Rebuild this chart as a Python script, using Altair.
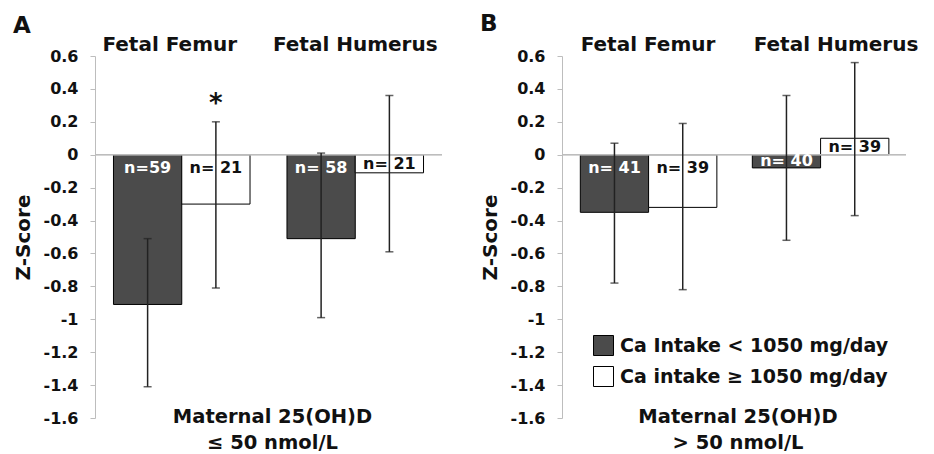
import altair as alt
import pandas as pd

FONT = "DejaVu Sans"

groups = ["Fetal Femur", "Fetal Humerus"]
series = ["Ca Intake < 1050 mg/day", "Ca intake ≥ 1050 mg/day"]
series_colors = ["#4b4b4b", "#ffffff"]

# Panel A: Maternal 25(OH)D <= 50 nmol/L (order: Femur <, Femur >=, Humerus <, Humerus >=)
a_mean = [-0.91, -0.30, -0.51, -0.11]
a_low = [-1.41, -0.81, -0.99, -0.59]
a_high = [-0.51, 0.20, 0.01, 0.36]
a_n = ["n=59", "n= 21", "n= 58", "n= 21"]
a_sig = ["", "*", "", ""]
a_sub = "Maternal 25(OH)D\n≤ 50 nmol/L"

# Panel B: Maternal 25(OH)D > 50 nmol/L
b_mean = [-0.35, -0.32, -0.08, 0.10]
b_low = [-0.78, -0.82, -0.52, -0.37]
b_high = [0.07, 0.19, 0.36, 0.56]
b_n = ["n= 41", "n= 39", "n= 40", "n= 39"]
b_sig = ["", "", "", ""]
b_sub = "Maternal 25(OH)D\n> 50 nmol/L"

y_ticks = [-1.6, -1.4, -1.2, -1.0, -0.8, -0.6, -0.4, -0.2, 0.0, 0.2, 0.4, 0.6]

H = 362


def panel(letter, mean, low, high, nlab, sig, sub, width, show_legend, femur_off, humerus_off):
    df = pd.DataFrame({
        "group": [g for g in groups for _ in series],
        "series": [s for _ in groups for s in series],
        "mean": mean, "low": low, "high": high, "n": nlab, "sig": sig,
    })
    xaxis = alt.Axis(orient="top", title=None, domain=False, ticks=False,
                     labelAngle=0, labelFontSize=20, labelFont=FONT,
                     labelFontWeight="bold", labelColor="#111111",
                     labelPadding=2,
                     labelOffset={"condition": {"test": "datum.value === 'Fetal Femur'",
                                                "value": femur_off},
                                  "value": humerus_off})
    xsc = alt.Scale(paddingInner=0.213, paddingOuter=0.1065)
    x = alt.X("group:N", sort=groups, scale=xsc, axis=xaxis)
    xo = alt.XOffset("series:N", sort=series,
                     scale=alt.Scale(paddingInner=0, paddingOuter=0))
    ysc = alt.Scale(domain=[-1.6, 0.6], nice=False, zero=False)

    yaxis = alt.Axis(title="Z-Score", values=y_ticks,
                     labelExpr="'' + round(datum.value*10)/10",
                     labelOverlap=False,
                     grid=False, domainColor="#bdbdbd", tickColor="#bdbdbd",
                     tickSize=5, labelPadding=12,
                     labelFont=FONT, labelFontSize=16, labelFontWeight="bold",
                     labelColor="#111111",
                     titleFont=FONT, titleFontSize=20, titleFontWeight="bold",
                     titleColor="#111111", titlePadding=10)

    def Y(field):
        return alt.Y(field, scale=ysc, axis=yaxis)

    base = alt.Chart(df)

    if show_legend:
        leg = alt.Legend(orient="none", legendX=31, legendY=279, title=None,
                         symbolType="square", symbolSize=400,
                         symbolStrokeColor="black", symbolStrokeWidth=1,
                         labelFont=FONT, labelFontSize=19, labelFontWeight="bold",
                         labelColor="#111111", labelOffset=6, rowPadding=6,
                         labelLimit=400)
    else:
        leg = None

    bars = base.mark_bar(stroke="black", strokeWidth=1).encode(
        x=x, xOffset=xo,
        y=Y("mean:Q"),
        y2=alt.datum(0),
        color=alt.Color("series:N", sort=series,
                        scale=alt.Scale(domain=series, range=series_colors),
                        legend=leg),
    )

    zero = base.mark_rule(color="#bdbdbd", strokeWidth=1).encode(
        y=alt.datum(0, scale=ysc, axis=yaxis)
    )

    err = base.mark_rule(color="#222222", strokeWidth=1.5).encode(
        x=x, xOffset=xo, y=Y("low:Q"), y2="high:Q"
    )
    cap_lo = base.mark_tick(orient="horizontal", size=8, thickness=1.5,
                            color="#222222").encode(x=x, xOffset=xo, y=Y("low:Q"))
    cap_hi = base.mark_tick(orient="horizontal", size=8, thickness=1.5,
                            color="#222222").encode(x=x, xOffset=xo, y=Y("high:Q"))

    nlabels = base.transform_calculate(
        ly="abs(datum.mean) < 0.15 ? datum.mean / 2 : -0.08"
    ).mark_text(font=FONT, fontSize=16, fontWeight="bold", baseline="middle",
                align="center").encode(
        x=x, xOffset=xo, y=Y("ly:Q"), text="n:N",
        color=alt.condition(alt.datum.series == series[0], alt.value("white"),
                            alt.value("#111111")),
    )

    stars = base.mark_text(font=FONT, fontSize=26, fontWeight="bold",
                           baseline="alphabetic", align="center", dy=-10,
                           color="#111111").encode(
        x=x, xOffset=xo, y=Y("high:Q"), text="sig:N"
    )

    sub_text = alt.Chart(pd.DataFrame({"t": [sub]})).mark_text(
        font=FONT, fontSize=19.5, fontWeight="bold", align="center",
        baseline="alphabetic", lineBreak="\n", lineHeight=26, color="#111111"
    ).encode(x=alt.value(width / 2 + 4), y=alt.value(367), text="t:N")

    return alt.layer(bars, zero, err, cap_lo, cap_hi, nlabels, stars, sub_text).properties(
        width=width, height=H,
        title=alt.TitleParams(letter, anchor="start", frame="bounds", fontSize=23,
                              font=FONT, fontWeight="bold", color="#111111", offset=-4),
    )


pa = panel("A", a_mean, a_low, a_high, a_n, a_sig, a_sub, 347, False, -12, 0)
pb = panel("B", b_mean, b_low, b_high, b_n, b_sig, b_sub, 344, True, 0, 16)

chart = alt.hconcat(pa, pb, spacing=37).resolve_legend(color="independent").configure(
    padding={"left": 5, "top": 4, "right": 0, "bottom": 0}
).configure_view(stroke=None)

chart.save("out.html", embed_options={"renderer": "svg", "actions": False})
